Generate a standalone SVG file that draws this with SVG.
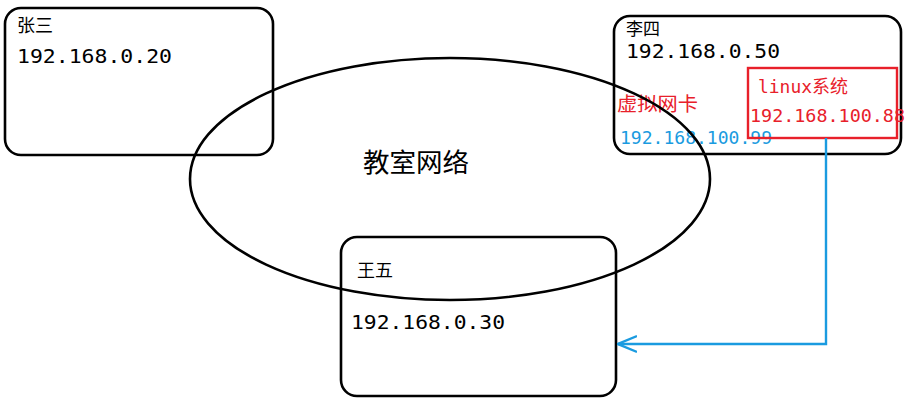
<svg xmlns="http://www.w3.org/2000/svg" width="905" height="400" viewBox="0 0 905 400">
  <style>
    .box { fill: none; stroke: #000; stroke-width: 2.6; }
    .cjk { font-family: "Noto Sans CJK SC", "Noto Sans", sans-serif; }
    .mono { font-family: "DejaVu Sans Mono", "Liberation Mono", monospace; }
    .red { fill: #e8202a; }
    .blue { fill: #1a9be0; }
  </style>
  <defs>
    <marker id="openArrow" viewBox="0 0 20 20" refX="19" refY="10" markerWidth="20" markerHeight="20" markerUnits="userSpaceOnUse" orient="auto">
      <path d="M0,2 L19,10 L0,18" fill="none" stroke="#1a9be0" stroke-width="2.4"/>
    </marker>
  </defs>
  <rect width="905" height="400" fill="#fff"/>

  <g id="zhangsan">
    <rect class="box" x="5" y="8" width="268" height="147" rx="16"/>
    <text class="cjk" x="17" y="32" font-size="18">张三</text>
    <text class="mono" x="17" y="63" font-size="20" textLength="155" lengthAdjust="spacingAndGlyphs">192.168.0.20</text>
  </g>

  <g id="lisi">
    <rect class="box" x="614" y="16" width="287" height="138" rx="16"/>
    <text class="cjk" x="626" y="35" font-size="17">李四</text>
    <text class="mono" x="626" y="58" font-size="20" textLength="154" lengthAdjust="spacingAndGlyphs">192.168.0.50</text>
    <text class="cjk red" x="617" y="111" font-size="19" textLength="81" lengthAdjust="spacingAndGlyphs">虚拟网卡</text>
    <text class="mono blue" x="620" y="144" font-size="18" textLength="152" lengthAdjust="spacingAndGlyphs">192.168.100.99</text>
  </g>

  <g id="linux">
    <rect x="748" y="68" width="149" height="70" fill="none" stroke="#e8202a" stroke-width="2.4"/>
    <text class="red" x="758" y="93" font-size="18"><tspan class="mono" textLength="54" lengthAdjust="spacingAndGlyphs">linux</tspan><tspan class="cjk">系统</tspan></text>
    <text class="mono red" x="750" y="122" font-size="17" textLength="155" lengthAdjust="spacingAndGlyphs">192.168.100.88</text>
  </g>

  <g id="wangwu">
    <rect class="box" x="341" y="237" width="275" height="159" rx="16"/>
    <text class="cjk" x="357" y="277" font-size="18">王五</text>
    <text class="mono" x="351" y="329" font-size="20" textLength="154" lengthAdjust="spacingAndGlyphs">192.168.0.30</text>
  </g>

  <g id="network">
    <ellipse cx="450" cy="179" rx="260" ry="121" fill="none" stroke="#000" stroke-width="2.6"/>
    <text class="cjk" x="363" y="172" font-size="26" textLength="106" lengthAdjust="spacingAndGlyphs">教室网络</text>
  </g>

  <g id="connectors">
    <polyline points="826,138 826,344 618,344" fill="none" stroke="#1a9be0" stroke-width="2.4" marker-end="url(#openArrow)"/>
  </g>
</svg>
